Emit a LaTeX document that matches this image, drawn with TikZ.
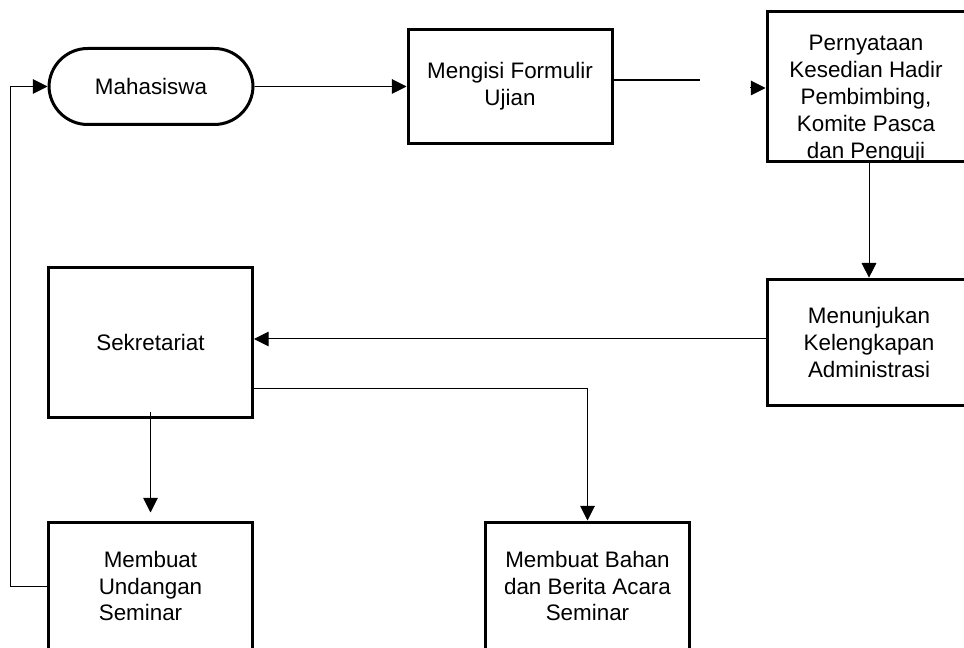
\documentclass[tikz,border=0pt]{standalone}
\usepackage{fontspec}
\setmainfont{Liberation Sans}
\usetikzlibrary{arrows.meta,calc}
\begin{document}
\begin{tikzpicture}[x=0.75pt,y=-0.75pt,
  font=\fontsize{16.8}{20.2}\selectfont,
  box/.style={draw,line width=2.25pt,rectangle,inner sep=0pt,align=center},
  txt/.style={inner sep=0pt,align=center},
  conn/.style={line width=0.75pt},
  arr/.style={conn,-{Triangle[length=11pt,width=11pt]}}]
\useasboundingbox (0,0) rectangle (964,648);
\clip (0,0) rectangle (964,648);
% nodes
\node[box,rounded corners=29pt,minimum width=153pt,minimum height=57pt] (mhs) at (151,86.5) {Mahasiswa};
\node[box,minimum width=153pt,minimum height=86pt] (mfu) at (510,86.5) {Mengisi Formulir\\Ujian};
\node[box,minimum width=153pt,minimum height=113pt] (pern) at (869,86.5) {};
\node[txt] (pernT) at (866,99) {Pernyataan\\Kesedian Hadir\\Pembimbing,\\Komite Pasca\\dan Penguji};
\node[box,minimum width=153pt,minimum height=95pt] (menu) at (869,342.5) {Menunjukan\\Kelengkapan\\Administrasi};
\node[box,minimum width=153pt,minimum height=113pt] (sek) at (150.5,342.5) {Sekretariat};
\node[box,minimum width=153pt,minimum height=96pt,align=left] (und) at (150.5,586) {\hspace*{3.75pt}Membuat\\Undangan\\Seminar};
\node[box,minimum width=153pt,minimum height=96pt] (bah) at (587.5,586) {Membuat Bahan\\dan Berita Acara\\Seminar};
\coordinate (gapA) at (700,80);
\coordinate (gapB) at (750,88);
% connectors
\draw[arr] (mhs.east) -- (mfu.west);
\draw[line width=1.5pt] ($(mfu.east)+(-3,-6.5)$) -- (gapA);
\draw[arr] (gapB) -- (gapB -| pern.west);
\draw[arr] (pern.south) -- (menu.north);
\draw[arr] ($(menu.west)+(0,-3.5)$) -- ($(sek.east)+(0,-3.5)$);
\draw[arr] ($(sek.east)+(0,46.5)$) -| (bah.north);
\draw[arr] ($(sek.south)+(0,-7)$) -- ($(und.north)+(0,-8)$);
\draw[arr] (und.west) -- ++(-37,0) |- (mhs.west);
\end{tikzpicture}
\end{document}
